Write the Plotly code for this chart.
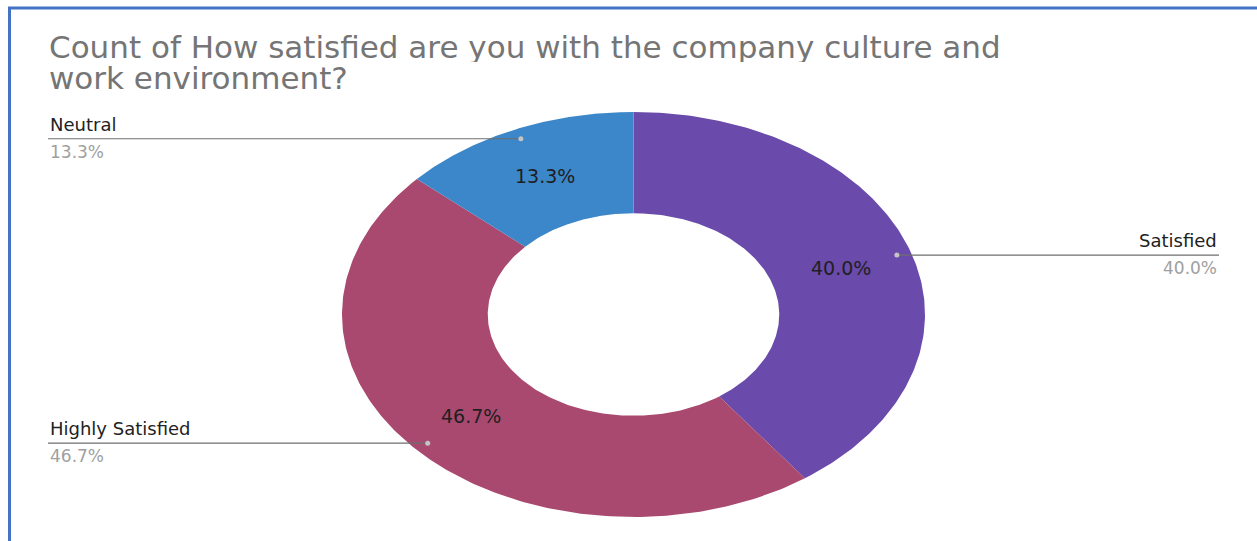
import numpy as np
import plotly.graph_objects as go

# Survey answers and their response counts (clockwise from 12 o'clock)
categories = ["Satisfied", "Highly Satisfied", "Neutral"]
counts = [6, 7, 2]
slice_colors = ["#6a4aaa", "#a9496f", "#3c87c9"]

title_lines = ["Count of How satisfied are you with the company culture and",
               "work environment?"]

W, H = 1257, 541
CX, CY = 633.5, 314.5          # donut centre (pixels)
RX, RY = 291.5, 202.5          # outer radii of the ring
HOLE = 0.5                     # inner radius as a fraction of outer
LABEL_R = 0.75                 # radius of in-slice percentage labels
DOT_R = 0.95                   # radius where leader lines start
LEFT_COL, RIGHT_COL = 48, 1219
FONT = "DejaVu Sans"


def pt(theta, r):
    """Point on the (stretched) ring, theta in radians clockwise from top."""
    return CX + RX * r * np.sin(theta), CY - RY * r * np.cos(theta)


total = sum(counts)
shares = [c / total for c in counts]
pct_text = [f"{s * 100:.1f}%" for s in shares]

fig = go.Figure()
annotations = []

start = 0.0
for name, share, color, pct in zip(categories, shares, slice_colors, pct_text):
    end = start + share * 2 * np.pi
    t = np.linspace(start, end, 200)
    ox, oy = pt(t, 1.0)
    ix, iy = pt(t[::-1], HOLE)
    fig.add_trace(go.Scatter(
        x=np.concatenate([ox, ix, ox[:1]]),
        y=np.concatenate([oy, iy, oy[:1]]),
        fill="toself", fillcolor=color, mode="lines",
        line=dict(width=0, color=color), hoverinfo="skip", showlegend=False))

    mid = (start + end) / 2
    lx, ly = pt(mid, LABEL_R)
    annotations.append(dict(x=lx, y=ly, text=pct, showarrow=False,
                            font=dict(family=FONT, size=19, color="#1f1f1f"),
                            xanchor="center", yanchor="middle"))

    # leader line from the slice to the label column
    dx, dy = pt(mid, DOT_R)
    right = np.sin(mid) > 0
    col = RIGHT_COL if right else LEFT_COL
    fig.add_trace(go.Scatter(x=[dx, col], y=[dy, dy], mode="lines",
                             line=dict(color="#6e6e6e", width=1.2),
                             hoverinfo="skip", showlegend=False))
    fig.add_trace(go.Scatter(x=[dx], y=[dy], mode="markers",
                             marker=dict(color="#c4c4c4", size=5),
                             hoverinfo="skip", showlegend=False))
    anchor = "right" if right else "left"
    annotations.append(dict(x=col, y=dy - 2, text=name, showarrow=False,
                            font=dict(family=FONT, size=18, color="#222222"),
                            xanchor=anchor, yanchor="bottom"))
    annotations.append(dict(x=col, y=dy + 1, text=pct, showarrow=False,
                            font=dict(family=FONT, size=17, color="#a0a0a0"),
                            xanchor=anchor, yanchor="top"))
    start = end

# two-line title, set tighter than the default line height
for i, line in enumerate(title_lines):
    annotations.append(dict(x=48, y=55 + 31 * i, text=line, showarrow=False,
                            font=dict(family=FONT, size=31, color="#757575"),
                            height=31, borderpad=0,
                            xanchor="left", yanchor="middle", yshift=9))

fig.update_layout(
    width=W, height=H,
    margin=dict(l=0, r=0, t=0, b=0),
    paper_bgcolor="white", plot_bgcolor="white",
    xaxis=dict(range=[0, W], visible=False, fixedrange=True),
    yaxis=dict(range=[H, 0], visible=False, fixedrange=True),
    annotations=annotations,
    shapes=[
        dict(type="line", xref="paper", yref="paper",
             x0=8 / W, x1=1, y0=1 - 8 / H, y1=1 - 8 / H,
             line=dict(color="#4472c4", width=3)),
        dict(type="line", xref="paper", yref="paper",
             x0=9.5 / W, x1=9.5 / W, y0=0, y1=1 - 8 / H,
             line=dict(color="#4472c4", width=3)),
    ],
)

fig.write_html("out.html")
